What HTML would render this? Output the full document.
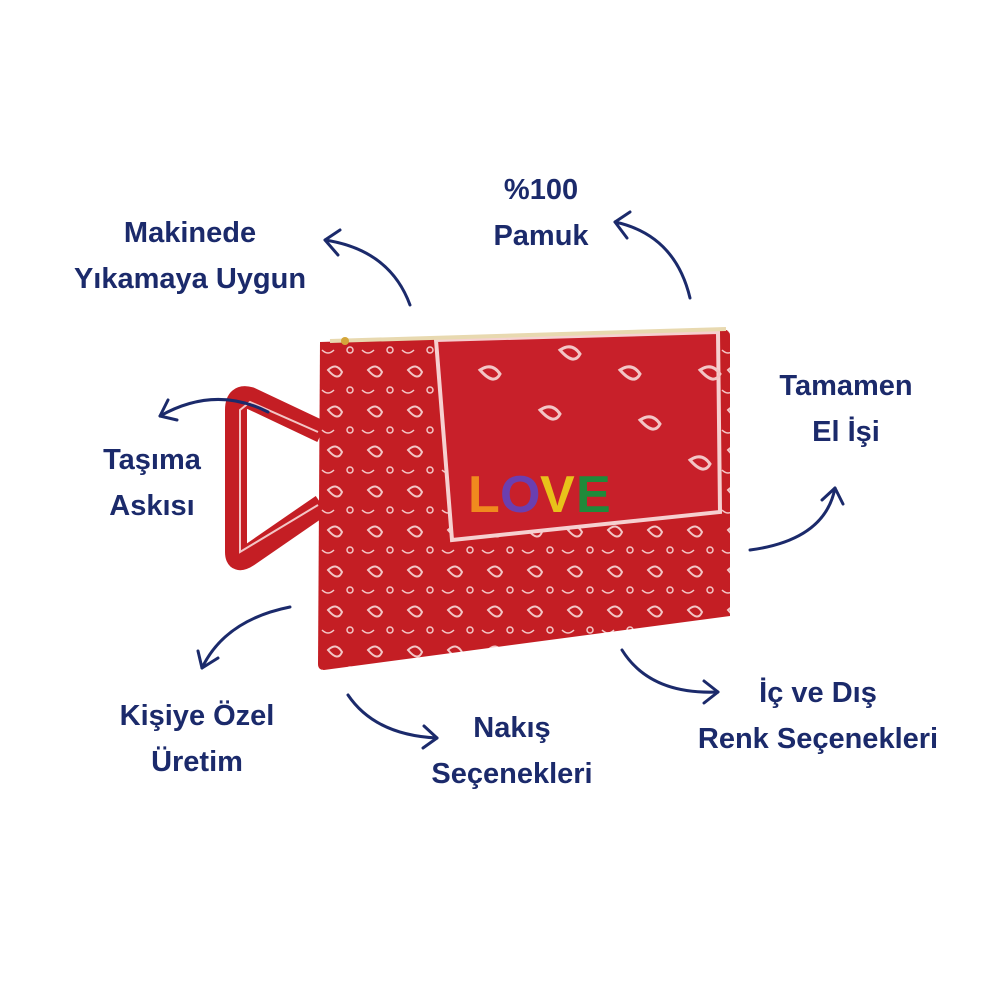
<!DOCTYPE html>
<html><head><meta charset="utf-8"><style>
html,body{margin:0;padding:0;background:#fff;}
body{width:1000px;height:1000px;position:relative;overflow:hidden;}
.t{position:absolute;font-family:"Liberation Sans",sans-serif;font-weight:bold;color:#1b2a6b;font-size:29px;text-align:center;line-height:46px;transform:translateX(-50%);white-space:nowrap;}
svg{position:absolute;left:0;top:0;}
</style></head><body>
<svg width="1000" height="1000" viewBox="0 0 1000 1000">
<defs>
<pattern id="p" width="40" height="40" patternUnits="userSpaceOnUse">
<rect width="40" height="40" fill="#c41e24"/>
<path d="M8 10 q8 -8 14 2 q-4 10 -14 -2z" fill="none" stroke="#f3c6c6" stroke-width="2"/>
<circle cx="30" cy="30" r="3" fill="none" stroke="#f3c6c6" stroke-width="1.5"/>
<path d="M2 30 q6 6 12 0" fill="none" stroke="#f3c6c6" stroke-width="1.5"/>
</pattern>
</defs>
<!-- strap -->
<path d="M322 432 L250 398 Q236 394 236 410 L236 552 Q236 564 248 556 L322 505" fill="none" stroke="#c41e24" stroke-width="22" stroke-linejoin="round"/>
<path d="M318 432 L250 402 L240 410 L240 552 L318 505" fill="none" stroke="#f3c6c6" stroke-width="2"/>
<!-- bag -->
<path d="M320 342 L726 330 Q730 330 730 336 L730 616 L324 670 Q318 670 318 664 Z" fill="url(#p)"/>
<!-- inner plain panel -->
<path d="M436 340 L718 332 L720 512 L452 540 Z" fill="#c8202a" stroke="#f6d0d0" stroke-width="4"/>
<g fill="none" stroke="#f3c6c6" stroke-width="3">
<path d="M560 350 q12 -8 20 4 q-6 12 -20 -4z"/><path d="M700 370 q12 -8 20 4 q-6 12 -20 -4z"/>
<path d="M480 370 q12 -8 20 4 q-6 12 -20 -4z"/><path d="M540 410 q12 -8 20 4 q-6 12 -20 -4z"/>
<path d="M640 420 q12 -8 20 4 q-6 12 -20 -4z"/><path d="M690 460 q12 -8 20 4 q-6 12 -20 -4z"/>
<path d="M620 370 q12 -8 20 4 q-6 12 -20 -4z"/>
</g>
<!-- zipper -->
<path d="M330 341 L726 329" stroke="#e8d9b0" stroke-width="4"/>
<circle cx="345" cy="341" r="4" fill="#d4a63a"/>
<!-- LOVE -->
<text x="468" y="512" font-family="Liberation Sans,sans-serif" font-weight="bold" font-size="52" fill="#f08a1e">L</text>
<text x="500" y="512" font-family="Liberation Sans,sans-serif" font-weight="bold" font-size="52" fill="#6b3fb0">O</text>
<text x="540" y="512" font-family="Liberation Sans,sans-serif" font-weight="bold" font-size="52" fill="#e8c21a">V</text>
<text x="576" y="512" font-family="Liberation Sans,sans-serif" font-weight="bold" font-size="52" fill="#1f8a3a">E</text>
<!-- arrows -->
<g fill="none" stroke="#1b2a6b" stroke-width="3" stroke-linecap="round" stroke-linejoin="round">
<path d="M410 305 Q390 250 325 240"/><path d="M340 230 L325 240 L338 255"/>
<path d="M690 298 Q675 235 615 222"/><path d="M630 212 L615 222 L627 238"/>
<path d="M268 412 Q215 385 160 416"/><path d="M168 400 L160 416 L177 420"/>
<path d="M750 550 Q825 540 835 488"/><path d="M822 500 L835 488 L843 504"/>
<path d="M290 607 Q225 620 202 668"/><path d="M198 651 L202 668 L218 658"/>
<path d="M348 695 Q375 735 437 738"/><path d="M424 726 L437 738 L423 748"/>
<path d="M622 650 Q650 695 718 692"/><path d="M704 681 L718 692 L704 703"/>
</g>
</svg>
<div class="t" style="left:190px;top:210px">Makinede<br>Yıkamaya Uygun</div>
<div class="t" style="left:541px;top:167px">%100<br>Pamuk</div>
<div class="t" style="left:846px;top:363px">Tamamen<br>El İşi</div>
<div class="t" style="left:152px;top:437px">Taşıma<br>Askısı</div>
<div class="t" style="left:197px;top:693px">Kişiye Özel<br>Üretim</div>
<div class="t" style="left:512px;top:705px">Nakış<br>Seçenekleri</div>
<div class="t" style="left:818px;top:670px">İç ve Dış<br>Renk Seçenekleri</div>
</body></html>
